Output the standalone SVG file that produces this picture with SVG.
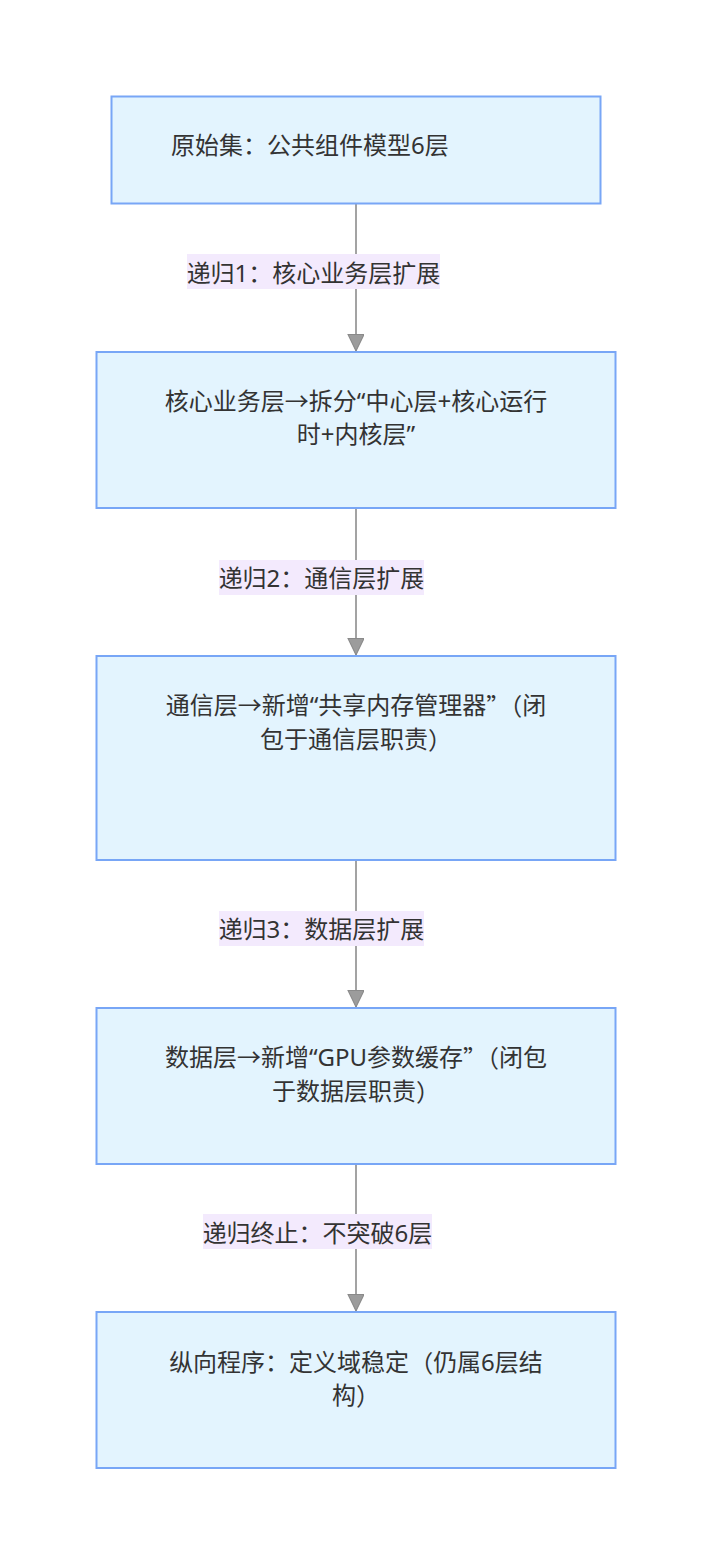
<svg xmlns="http://www.w3.org/2000/svg" width="712" height="1564" viewBox="0 0 712 1564">
<style>
.node rect{fill:#e3f4fe;stroke:#78a6f6;stroke-width:2}
.t{font-family:"Noto Sans","Noto Sans CJK SC",sans-serif;font-size:24px;fill:#333;dominant-baseline:central}
.cjk{font-family:"Noto Sans CJK SC",sans-serif}
.c{text-anchor:middle}
.lbl{fill:#f3eafd}
.edge{stroke:#a3a3a3;stroke-width:2;fill:none}
</style>
<defs>
<marker id="arr" markerUnits="userSpaceOnUse" markerWidth="18" markerHeight="18" refX="16" refY="8" orient="auto" viewBox="0 0 17 17">
<path d="M0.5,0.5 L16,8 L0.5,15.5 Z" fill="#9c9c9c" stroke="#8a8a8a" stroke-width="1"/>
</marker>
</defs>
<g id="edges">
<line class="edge" x1="356" y1="204" x2="356" y2="351" marker-end="url(#arr)"/>
<line class="edge" x1="356" y1="508" x2="356" y2="655" marker-end="url(#arr)"/>
<line class="edge" x1="356" y1="860" x2="356" y2="1007" marker-end="url(#arr)"/>
<line class="edge" x1="356" y1="1164" x2="356" y2="1311" marker-end="url(#arr)"/>
<g id="label1"><rect class="lbl" x="187" y="254" width="253" height="35"/><text class="t c" x="313.5" y="272">递归1：核心业务层扩展</text></g>
<g id="label2"><rect class="lbl" x="219" y="560" width="205" height="35"/><text class="t c" x="321.5" y="577">递归2：通信层扩展</text></g>
<g id="label3"><rect class="lbl" x="219" y="911" width="205" height="35"/><text class="t c" x="321.5" y="928">递归3：数据层扩展</text></g>
<g id="label4"><rect class="lbl" x="203" y="1214" width="229" height="35"/><text class="t c" x="317.5" y="1232">递归终止：不突破6层</text></g>
</g>
<g id="n1" class="node"><rect x="111.5" y="96.5" width="489" height="107"/><text class="t" x="171" y="144">原始集：公共组件模型6层</text></g>
<g id="n2" class="node"><rect x="96.5" y="352" width="519" height="156"/><text class="t c" x="356" y="400">核心业务层→拆分“中心层+核心运行</text><text class="t c" x="356" y="433">时+内核层”</text></g>
<g id="n3" class="node"><rect x="96.5" y="656" width="519" height="204"/><text class="t c" x="356" y="704">通信层→新增“共享内存管理器<tspan class="cjk">”（</tspan>闭</text><text class="t c" x="356" y="738">包于通信层职责<tspan class="cjk">）</tspan></text></g>
<g id="n4" class="node"><rect x="96.5" y="1008" width="519" height="156"/><text class="t c" x="356" y="1056">数据层→新增“GPU参数缓存<tspan class="cjk">”（</tspan>闭包</text><text class="t c" x="356" y="1090">于数据层职责<tspan class="cjk">）</tspan></text></g>
<g id="n5" class="node"><rect x="96.5" y="1312" width="519" height="156"/><text class="t c" x="356" y="1361">纵向程序：定义域稳定<tspan class="cjk">（</tspan>仍属6层结</text><text class="t c" x="356" y="1394">构<tspan class="cjk">）</tspan></text></g>
</svg>
